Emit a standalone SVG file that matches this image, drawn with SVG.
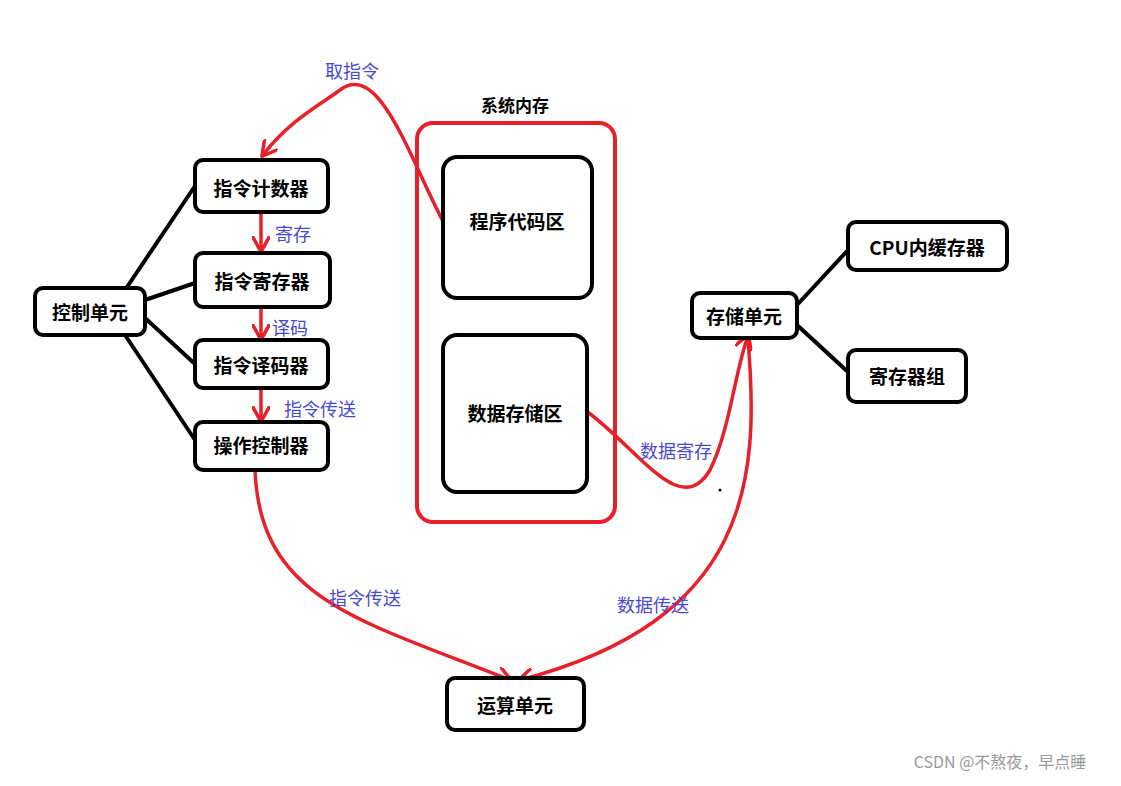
<svg xmlns="http://www.w3.org/2000/svg" width="1121" height="786" viewBox="0 0 1121 786">
<defs>
<style>
.box{fill:#fff;stroke:#000;stroke-width:4}
.t{font-family:"Noto Sans CJK SC","Liberation Sans",sans-serif;font-weight:bold;font-size:19px;fill:#000;text-anchor:middle;dominant-baseline:central}
.b{font-family:"Noto Sans CJK SC",sans-serif;font-size:18px;fill:#4a4ad0;text-anchor:middle;dominant-baseline:central}
.k{stroke:#000;stroke-width:4;fill:none}
.r{stroke:#e8202a;stroke-width:3.5;fill:none;marker-end:url(#a)}
</style>
<marker id="a" viewBox="0 0 10 10" refX="8" refY="5" markerWidth="5" markerHeight="5" orient="auto"><path d="M0,0 L9,5 L0,10" fill="none" stroke="#e8202a" stroke-width="2"/></marker>
</defs>
<rect width="1121" height="786" fill="#fff"/>
<g id="connectors">
<path class="k" d="M125,290 L195,186 M145,300 L195,283 M145,318 L195,364 M125,335 L195,440 M797,305 L848,250 M797,325 L848,372"/>
<path class="r" d="M445,225 C410,160 380,60 340,90 C320,105 290,120 263,155"/>
<path class="r" d="M261,212 L261,250"/>
<path class="r" d="M261,307 L261,338"/>
<path class="r" d="M261,388 L261,420"/>
<path class="r" d="M585,410 C640,450 680,520 710,470 C730,430 735,370 748,336"/>
<path class="r" d="M255,470 C260,600 360,620 510,680"/>
<path class="r" d="M748,340 C760,480 750,620 520,680"/>
<circle cx="720" cy="490" r="1.5" fill="#000"/>
</g>
<g id="memory"><text class="t" x="515" y="104" style="font-size:17px">系统内存</text><rect x="417" y="123" width="198" height="399" rx="16" fill="none" stroke="#e8202a" stroke-width="4"/></g>
<g id="n1"><rect class="box" x="35" y="288" width="110" height="47" rx="8"/><text class="t" x="90" y="311">控制单元</text></g>
<g id="n2"><rect class="box" x="195" y="160" width="133" height="52" rx="8"/><text class="t" x="261" y="187">指令计数器</text></g>
<g id="n3"><rect class="box" x="195" y="253" width="135" height="54" rx="8"/><text class="t" x="262" y="280">指令寄存器</text></g>
<g id="n4"><rect class="box" x="195" y="340" width="133" height="48" rx="8"/><text class="t" x="261" y="364">指令译码器</text></g>
<g id="n5"><rect class="box" x="195" y="422" width="133" height="48" rx="8"/><text class="t" x="261" y="444">操作控制器</text></g>
<g id="n6"><rect class="box" x="443" y="157" width="149" height="141" rx="14"/><text class="t" x="517" y="220">程序代码区</text></g>
<g id="n7"><rect class="box" x="443" y="335" width="144" height="157" rx="14"/><text class="t" x="515" y="412">数据存储区</text></g>
<g id="n8"><rect class="box" x="692" y="293" width="105" height="45" rx="8"/><text class="t" x="744" y="315">存储单元</text></g>
<g id="n9"><rect class="box" x="848" y="222" width="159" height="48" rx="8"/><text class="t" x="927" y="246">CPU内缓存器</text></g>
<g id="n10"><rect class="box" x="848" y="350" width="118" height="52" rx="8"/><text class="t" x="907" y="375">寄存器组</text></g>
<g id="n11"><rect class="box" x="447" y="678" width="137" height="52" rx="8"/><text class="t" x="515" y="704">运算单元</text></g>
<g id="labels">
<text class="b" x="352" y="70">取指令</text>
<text class="b" x="293" y="233">寄存</text>
<text class="b" x="290" y="327">译码</text>
<text class="b" x="320" y="408">指令传送</text>
<text class="b" x="676" y="450">数据寄存</text>
<text class="b" x="365" y="597">指令传送</text>
<text class="b" x="653" y="604">数据传送</text>
<text x="1000" y="768" style="font-family:'Noto Sans CJK SC',sans-serif;font-size:16px;fill:#999;text-anchor:middle">CSDN @不熬夜，早点睡</text>
</g>
</svg>
